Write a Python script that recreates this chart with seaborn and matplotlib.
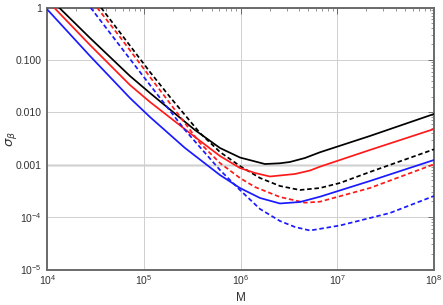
import numpy as np
import pandas as pd
import matplotlib
matplotlib.use("Agg")
import matplotlib.pyplot as plt
import seaborn as sns
from matplotlib.ticker import FixedLocator, LogLocator, NullFormatter

# ---- data (log10 M, log10 sigma_beta) ----
black_solid_logM = [4.121, 4.442, 4.855, 5.062, 5.527, 5.786, 5.993, 6.251, 6.406, 6.510, 6.665, 6.820, 7.337, 8.0]
black_solid_logS = [0.0, -0.582, -1.307, -1.632, -2.338, -2.681, -2.863, -2.987, -2.973, -2.948, -2.872, -2.763, -2.452, -2.032]

red_solid_logM = [4.069, 4.442, 4.855, 5.062, 5.527, 5.786, 5.993, 6.148, 6.303, 6.562, 6.717, 6.820, 7.337, 8.0]
red_solid_logS = [0.0, -0.716, -1.479, -1.803, -2.471, -2.834, -3.063, -3.158, -3.225, -3.177, -3.111, -3.038, -2.719, -2.319]

blue_solid_logM = [4.0, 4.442, 4.855, 5.062, 5.424, 5.786, 5.993, 6.200, 6.406, 6.613, 6.820, 7.337, 8.0]
blue_solid_logS = [-0.038, -0.926, -1.727, -2.090, -2.681, -3.197, -3.445, -3.635, -3.740, -3.712, -3.611, -3.311, -2.910]

black_dash_logM = [4.555, 4.752, 5.062, 5.269, 5.579, 5.786, 5.993, 6.200, 6.406, 6.613, 6.820, 7.027, 7.337, 8.0]
black_dash_logS = [0.0, -0.477, -1.231, -1.708, -2.395, -2.758, -3.025, -3.254, -3.406, -3.483, -3.445, -3.349, -3.139, -2.706]

red_dash_logM = [4.514, 4.752, 5.062, 5.321, 5.579, 5.786, 5.993, 6.148, 6.406, 6.665, 6.820, 7.337, 8.0]
red_dash_logS = [0.0, -0.563, -1.326, -1.956, -2.586, -2.968, -3.254, -3.426, -3.616, -3.725, -3.706, -3.445, -2.992]

blue_dash_logM = [4.447, 4.752, 5.062, 5.424, 5.786, 5.993, 6.200, 6.406, 6.562, 6.717, 7.027, 7.544, 8.0]
blue_dash_logS = [0.0, -0.735, -1.479, -2.338, -3.101, -3.483, -3.845, -4.074, -4.189, -4.256, -4.160, -3.922, -3.597]

x_ticks = [1e4, 1e5, 1e6, 1e7, 1e8]
x_tick_labels = ["$10^{4}$", "$10^{5}$", "$10^{6}$", "$10^{7}$", "$10^{8}$"]
y_ticks = [1e-5, 1e-4, 1e-3, 1e-2, 1e-1, 1]
y_tick_labels = ["$10^{-5}$", "$10^{-4}$", "0.001", "0.010", "0.100", "1"]

series = [
    ("black_solid", "black", "solid", black_solid_logM, black_solid_logS),
    ("red_solid", "red", "solid", red_solid_logM, red_solid_logS),
    ("blue_solid", "blue", "solid", blue_solid_logM, blue_solid_logS),
    ("black_dash", "black", "dash", black_dash_logM, black_dash_logS),
    ("red_dash", "red", "dash", red_dash_logM, red_dash_logS),
    ("blue_dash", "blue", "dash", blue_dash_logM, blue_dash_logS),
]

rows = []
for name, col, sty, lm, ls in series:
    for a, b in zip(lm, ls):
        rows.append({"curve": name, "color": col, "style": sty,
                     "M": 10.0 ** a, "sigma": 10.0 ** b})
df = pd.DataFrame(rows)

sns.set_style("white")
plt.rcParams["font.family"] = ["Liberation Sans", "DejaVu Sans"]
plt.rcParams["mathtext.default"] = "regular"

fig = plt.figure(figsize=(4.43, 3.05), dpi=100)
ax = fig.add_axes([47.3 / 443, 1 - 269.5 / 305, (434 - 47.3) / 443, (269.5 - 7.5) / 305])

ax.set_xscale("log")
ax.set_yscale("log")

palette = {"black": "#000000", "red": "#ff1a1a", "blue": "#1a1aff"}
dashes = {"solid": "", "dash": (2.6, 1.6)}
sns.lineplot(data=df, x="M", y="sigma", hue="color", style="style", units="curve",
             estimator=None, sort=False, palette=palette, dashes=dashes,
             linewidth=1.25, legend=False, ax=ax, zorder=3)

ax.set_xlim(1e4, 1e8)
ax.set_ylim(1e-5, 1)

ax.xaxis.set_major_locator(FixedLocator(x_ticks))
ax.set_xticklabels(x_tick_labels)
ax.yaxis.set_major_locator(FixedLocator(y_ticks))
ax.set_yticklabels(y_tick_labels)
ax.xaxis.set_minor_locator(LogLocator(base=10, subs=np.arange(2, 10)))
ax.yaxis.set_minor_locator(LogLocator(base=10, subs=np.arange(2, 10)))
ax.xaxis.set_minor_formatter(NullFormatter())
ax.yaxis.set_minor_formatter(NullFormatter())

ax.grid(True, which="major", color="#cfcfcf", linewidth=0.7, zorder=0)
ax.axhline(1e-3, color="#e6e6e6", linewidth=2.2, zorder=0.5)

for sp in ax.spines.values():
    sp.set_color("#6a6a6a")
    sp.set_linewidth(1.4)

ax.tick_params(which="both", direction="in", top=True, right=True,
               color="#6a6a6a", labelcolor="#333333", labelsize=7.5)
ax.tick_params(which="major", length=4, width=0.7)
ax.tick_params(which="minor", length=2, width=0.5)
ax.tick_params(axis="y", pad=4)
ax.tick_params(axis="x", pad=2.5)

ax.set_xlabel("M", fontsize=8.5, color="#333333")
ax.set_ylabel(r"$\mathit{\sigma}_{\mathit{\beta}}$", fontsize=9.5, color="#333333")
ax.xaxis.set_label_coords(0.5, -0.085)
ax.yaxis.set_label_coords(-0.072, 0.5)

fig.savefig("out.png", dpi=100)
